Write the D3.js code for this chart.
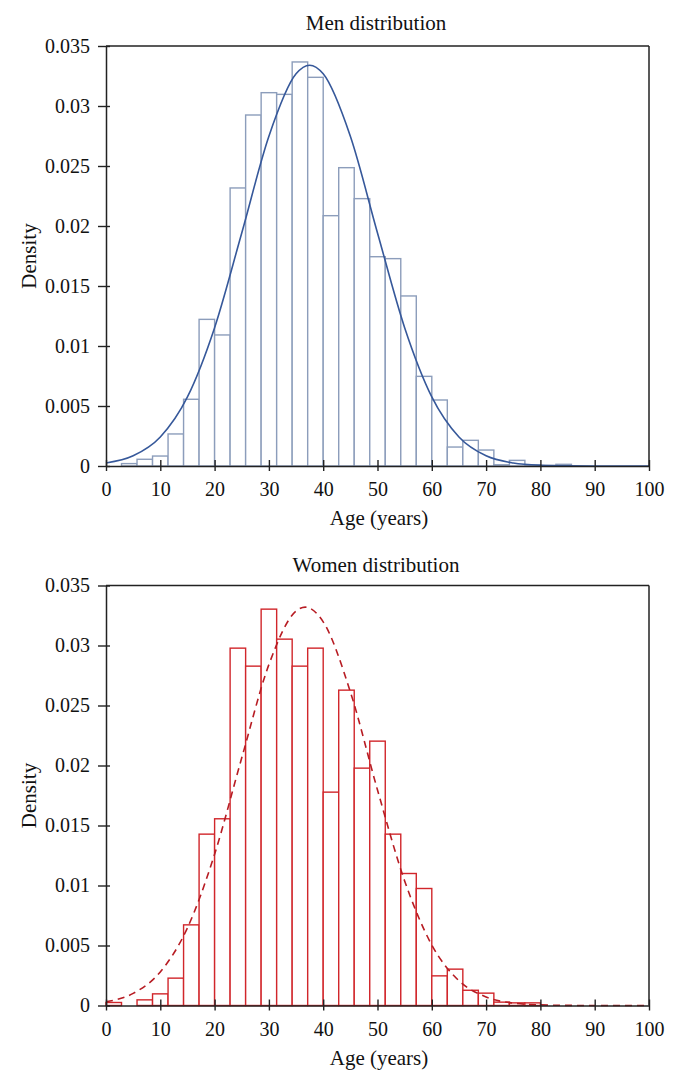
<!DOCTYPE html>
<html>
<head>
<meta charset="utf-8">
<script src="https://cdn.jsdelivr.net/npm/d3@7"></script>
<style>
  html, body { margin: 0; padding: 0; background: #fff; }
  svg { display: block; }
  text { font-family: "Liberation Serif", "DejaVu Serif", serif; fill: #111; }
</style>
</head>
<body>
<svg id="chart" width="680" height="1088"></svg>
<script>
// ---- Data ----
const binCount = 35;            // 35 equal bins from 0 to 100 years
const ageDomain = [0, 100];
const densityDomain = [0, 0.035];
const xTickValues = [0, 10, 20, 30, 40, 50, 60, 70, 80, 90, 100];
const yTickValues = [0, 0.005, 0.01, 0.015, 0.02, 0.025, 0.03, 0.035];
const yTickLabels = ["0", "0.005", "0.01", "0.015", "0.02", "0.025", "0.03", "0.035"];

const menDensity = [0, 0.0002, 0.00056, 0.00083, 0.00267, 0.00556, 0.01222, 0.01092, 0.02317, 0.02925,
  0.03111, 0.03097, 0.03367, 0.03239, 0.02086, 0.02486, 0.02228, 0.01744, 0.01728, 0.01417,
  0.00747, 0.0055, 0.00158, 0.00214, 0.00133, 0.0001, 0.00047, 0.0001, 0.00005, 0.00014,
  0, 0, 0, 0, 0];
const womenDensity = [0.00025, 0, 0.00047, 0.00097, 0.00228, 0.00672, 0.01428, 0.01556, 0.02978, 0.02828,
  0.03303, 0.03053, 0.02828, 0.02978, 0.01778, 0.02628, 0.01978, 0.02203, 0.01428, 0.011,
  0.00975, 0.00247, 0.00303, 0.00127, 0.00103, 0.00028, 0.00022, 0.00022, 0, 0,
  0, 0, 0, 0, 0];

// fitted normal density curves
const menCurveAge = [0, 5, 10, 15, 20, 25, 30, 35, 37.5, 40, 45, 50, 55, 60, 65, 70, 75, 80, 85, 90, 95, 100];
const menCurveDensity = [0.00025, 0.00085, 0.00242, 0.00576, 0.01153, 0.01942, 0.02748, 0.03268, 0.0334, 0.03268,
  0.02748, 0.01942, 0.01153, 0.00576, 0.00242, 0.00085, 0.00025, 0.00006, 0.00001, 0, 0, 0];
const womenCurveAge = [0, 5, 10, 15, 20, 25, 30, 35, 36.7, 40, 45, 50, 55, 60, 65, 70, 75, 80, 85, 90, 95, 100];
const womenCurveDensity = [0.00031, 0.00101, 0.0028, 0.00647, 0.01261, 0.02064, 0.02841, 0.03287, 0.0332, 0.03197,
  0.02614, 0.01796, 0.01038, 0.00504, 0.00206, 0.00071, 0.0002, 0.00005, 0.00001, 0, 0, 0];

// ---- Drawing ----
const svg = d3.select("#chart");

function panel(cfg) {
  const x = d3.scaleLinear().domain(ageDomain).range([106, 649]);
  const y = d3.scaleLinear().domain(densityDomain).range([cfg.bottom, cfg.top]);
  const g = svg.append("g");
  const binW = (ageDomain[1] - ageDomain[0]) / binCount;

  // bars
  g.append("g").selectAll("rect")
    .data(cfg.bars)
    .join("rect")
    .attr("x", (d, i) => x(i * binW))
    .attr("width", (d, i) => x((i + 1) * binW) - x(i * binW))
    .attr("y", d => y(d))
    .attr("height", d => y(0) - y(d))
    .attr("fill", "#fff")
    .attr("stroke", cfg.barColor)
    .attr("stroke-width", 1.4);

  // curve
  const pts = cfg.curveAge.map((a, i) => [a, cfg.curveDensity[i]]);
  g.append("path")
    .datum(pts)
    .attr("fill", "none")
    .attr("stroke", cfg.curveColor)
    .attr("stroke-width", 1.6)
    .attr("stroke-dasharray", cfg.dash || null)
    .attr("d", d3.line().x(d => x(d[0])).y(d => y(d[1])).curve(d3.curveMonotoneX));

  // frame (top & right)
  g.append("line").attr("x1", x(0)).attr("x2", x(100)).attr("y1", y(0.035)).attr("y2", y(0.035))
    .attr("stroke", "#222").attr("stroke-width", 1.5);
  g.append("line").attr("x1", x(100)).attr("x2", x(100)).attr("y1", y(0.035)).attr("y2", y(0))
    .attr("stroke", "#222").attr("stroke-width", 1.5);

  // x axis
  const xa = g.append("g").attr("transform", `translate(0,${y(0)})`)
    .call(d3.axisBottom(x).tickValues(xTickValues).tickSize(0).tickPadding(16).tickFormat(d3.format("d")));
  xa.select(".domain").attr("stroke", "#222").attr("stroke-width", 1.5);
  xa.selectAll(".tick line").remove();
  xa.selectAll(".tick").append("line").attr("y1", -6).attr("y2", 5).attr("stroke", "#222").attr("stroke-width", 1.4);
  xa.selectAll(".tick text").attr("font-size", 20).attr("fill", "#111")
    .attr("font-family", "'Liberation Serif', serif");

  // y axis
  const ya = g.append("g").attr("transform", `translate(${x(0)},0)`)
    .call(d3.axisLeft(y).tickValues(yTickValues).tickSize(0).tickPadding(16)
      .tickFormat((d, i) => yTickLabels[i]));
  ya.select(".domain").attr("stroke", "#222").attr("stroke-width", 1.5);
  ya.selectAll(".tick line").remove();
  ya.selectAll(".tick").append("line").attr("x1", -8).attr("x2", 4).attr("stroke", "#222").attr("stroke-width", 1.4);
  ya.selectAll(".tick text").attr("font-size", 20).attr("fill", "#111")
    .attr("font-family", "'Liberation Serif', serif");

  // titles
  g.append("text").attr("x", 376).attr("y", cfg.titleY).attr("text-anchor", "middle")
    .attr("font-size", 21).text(cfg.title);
  g.append("text").attr("x", 379).attr("y", y(0) + 59).attr("text-anchor", "middle")
    .attr("font-size", 21).text("Age (years)");
  g.append("text").attr("transform", `translate(36,${(cfg.top + cfg.bottom) / 2}) rotate(-90)`)
    .attr("text-anchor", "middle").attr("font-size", 21).text("Density");
}

panel({ top: 46, bottom: 466, titleY: 29.5, title: "Men distribution",
  bars: menDensity, barColor: "#8c9dbb", curveAge: menCurveAge, curveDensity: menCurveDensity,
  curveColor: "#36589a" });
panel({ top: 585.5, bottom: 1005.5, titleY: 571.5, title: "Women distribution",
  bars: womenDensity, barColor: "#d1262b", curveAge: womenCurveAge, curveDensity: womenCurveDensity,
  curveColor: "#b71c23", dash: "7,5" });
</script>
</body>
</html>
